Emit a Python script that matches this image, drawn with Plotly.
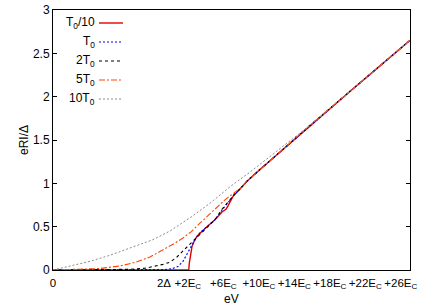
import plotly.graph_objects as go

# x in units of E_C (0 .. 40.23), y = eRI/Delta
x_tail = [21.07, 21.86, 23.32, 24.45, 25.58, 26.70, 28.96, 33.46, 36.85, 40.23]
y_tail = [0.935, 1.025, 1.16, 1.26, 1.365, 1.465, 1.67, 2.06, 2.355, 2.65]

x_red = [0, 15.20, 15.30, 15.36, 15.44, 15.56, 15.66, 15.90, 16.23, 17.13, 18.25, 19.04, 19.49, 19.72, 19.94, 20.28] + x_tail
y_red = [0, 0.00, 0.00, 0.08, 0.14, 0.21, 0.27, 0.33, 0.39, 0.48, 0.58, 0.67, 0.70, 0.74, 0.79, 0.85] + y_tail

x_blue = [0, 10.93, 12.62, 13.41, 14.08, 14.65, 15.10, 15.55, 16.00, 16.56, 17.13, 18.25, 19.04, 19.49, 19.94, 20.51] + x_tail
y_blue = [0, 0.00, 0.005, 0.015, 0.04, 0.10, 0.18, 0.27, 0.35, 0.43, 0.48, 0.58, 0.69, 0.75, 0.81, 0.88] + y_tail

x_black = [0, 5.30, 8.68, 10.37, 11.49, 12.39, 13.18, 13.97, 14.65, 15.55, 16.23, 17.13, 18.25, 19.04, 19.49, 19.94, 20.51] + x_tail
y_black = [0, 0.002, 0.008, 0.02, 0.04, 0.065, 0.09, 0.15, 0.22, 0.31, 0.39, 0.48, 0.58, 0.70, 0.76, 0.81, 0.88] + y_tail

x_orange = [0, 3.04, 5.30, 7.55, 9.35, 10.93, 12.39, 13.75, 14.65, 15.55, 16.56, 17.69, 18.59, 19.38, 20.28] + x_tail
y_orange = [0, 0.006, 0.017, 0.046, 0.09, 0.15, 0.23, 0.31, 0.37, 0.44, 0.54, 0.65, 0.74, 0.81, 0.88] + [0.94] + y_tail[1:]

x_gray = [0, 1.92, 4.17, 6.42, 8.68, 11.27, 13.18, 15.55, 17.69, 19.94, 22.20, 23.66, 25.01, 26.37, 27.83, 28.96, 33.46, 36.85, 40.23]
y_gray = [0, 0.046, 0.10, 0.17, 0.25, 0.35, 0.45, 0.61, 0.77, 0.96, 1.13, 1.245, 1.355, 1.46, 1.575, 1.67, 2.06, 2.355, 2.65]

tick_x = [0, 12.5, 15.2, 19.2, 23.2, 27.2, 31.2, 35.2, 39.2]
tick_text = ["0", "2Δ", "+2E<sub>C</sub>", "+6E<sub>C</sub>", "+10E<sub>C</sub>", "+14E<sub>C</sub>",
             "+18E<sub>C</sub>", "+22E<sub>C</sub>", "+26E<sub>C</sub>"]
y_ticks = [0, 0.5, 1, 1.5, 2, 2.5, 3]
y_tick_text = ["0", "0.5", "1", "1.5", "2", "2.5", "3"]

series = [
    ("T<sub>0</sub>/10", x_red, y_red, "rgb(225,0,0)", "solid", 1.4),
    ("T<sub>0</sub>", x_blue, y_blue, "rgb(0,0,255)", "2px,2px", 1.1),
    ("2T<sub>0</sub>", x_black, y_black, "rgb(0,0,0)", "3px,3px", 1.1),
    ("5T<sub>0</sub>", x_orange, y_orange, "rgb(255,70,0)", "6px,2px,2px,2px", 1.1),
    ("10T<sub>0</sub>", x_gray, y_gray, "rgb(140,140,140)", "2px,2px", 1.0),
]

FONT = "Liberation Sans, Arial, sans-serif"
FS = 12
fig = go.Figure()
for name, xs, ys, col, dash, w in series:
    fig.add_trace(go.Scatter(x=xs, y=ys, mode="lines", name=name, showlegend=False,
                             line=dict(color=col, dash=dash, width=w)))

# gnuplot-style legend: text then sample line
L, R, T, B = 53, 26, 10, 35
W, H = 436, 305
pw, ph = W - L - R, H - T - B
rows = [23, 42, 61, 80, 99]
for (name, xs, ys, col, dash, w), py in zip(series, rows):
    yp = (H - B - py) / ph
    fig.add_annotation(x=(97 - L) / pw, y=yp, xref="paper", yref="paper", text=name,
                       showarrow=False, xanchor="right", yanchor="middle",
                       font=dict(family=FONT, size=FS, color="black"))
    fig.add_shape(type="line", xref="paper", yref="paper", x0=(99 - L) / pw, x1=(123 - L) / pw,
                  y0=yp, y1=yp, line=dict(color=col, dash=dash, width=w))

fig.add_annotation(x=0.5, y=-(299 - 270) / ph, xref="paper", yref="paper", text="eV",
                   showarrow=False, yanchor="middle", font=dict(family=FONT, size=FS, color="black"))
fig.add_annotation(x=(15 - L) / pw, y=0.5, xref="paper", yref="paper", text="eRI/Δ",
                   showarrow=False, textangle=-90, font=dict(family=FONT, size=FS, color="black"))

fig.update_xaxes(range=[0, 40.23], tickmode="array", tickvals=tick_x, ticktext=tick_text,
                 ticks="", showline=True, linecolor="black", linewidth=1, mirror=True,
                 tickangle=0, automargin=False, ticklabelstandoff=2,
                 showgrid=False, zeroline=False, tickfont=dict(family=FONT, size=11.5, color="black"))
fig.update_yaxes(range=[0, 3], tickmode="array", tickvals=y_ticks, ticktext=y_tick_text,
                 ticks="inside", ticklen=4, tickcolor="black", showline=True, linecolor="black",
                 linewidth=1, mirror="allticks", showgrid=False, zeroline=False, automargin=False,
                 tickfont=dict(family=FONT, size=FS, color="black"))
fig.update_layout(width=W, height=H, margin=dict(l=L, r=R, t=T, b=B),
                  plot_bgcolor="white", paper_bgcolor="white", showlegend=False)
fig.write_html("out.html", config={"displayModeBar": False},
               post_script="document.body.style.margin='0';document.body.style.padding='0';")
